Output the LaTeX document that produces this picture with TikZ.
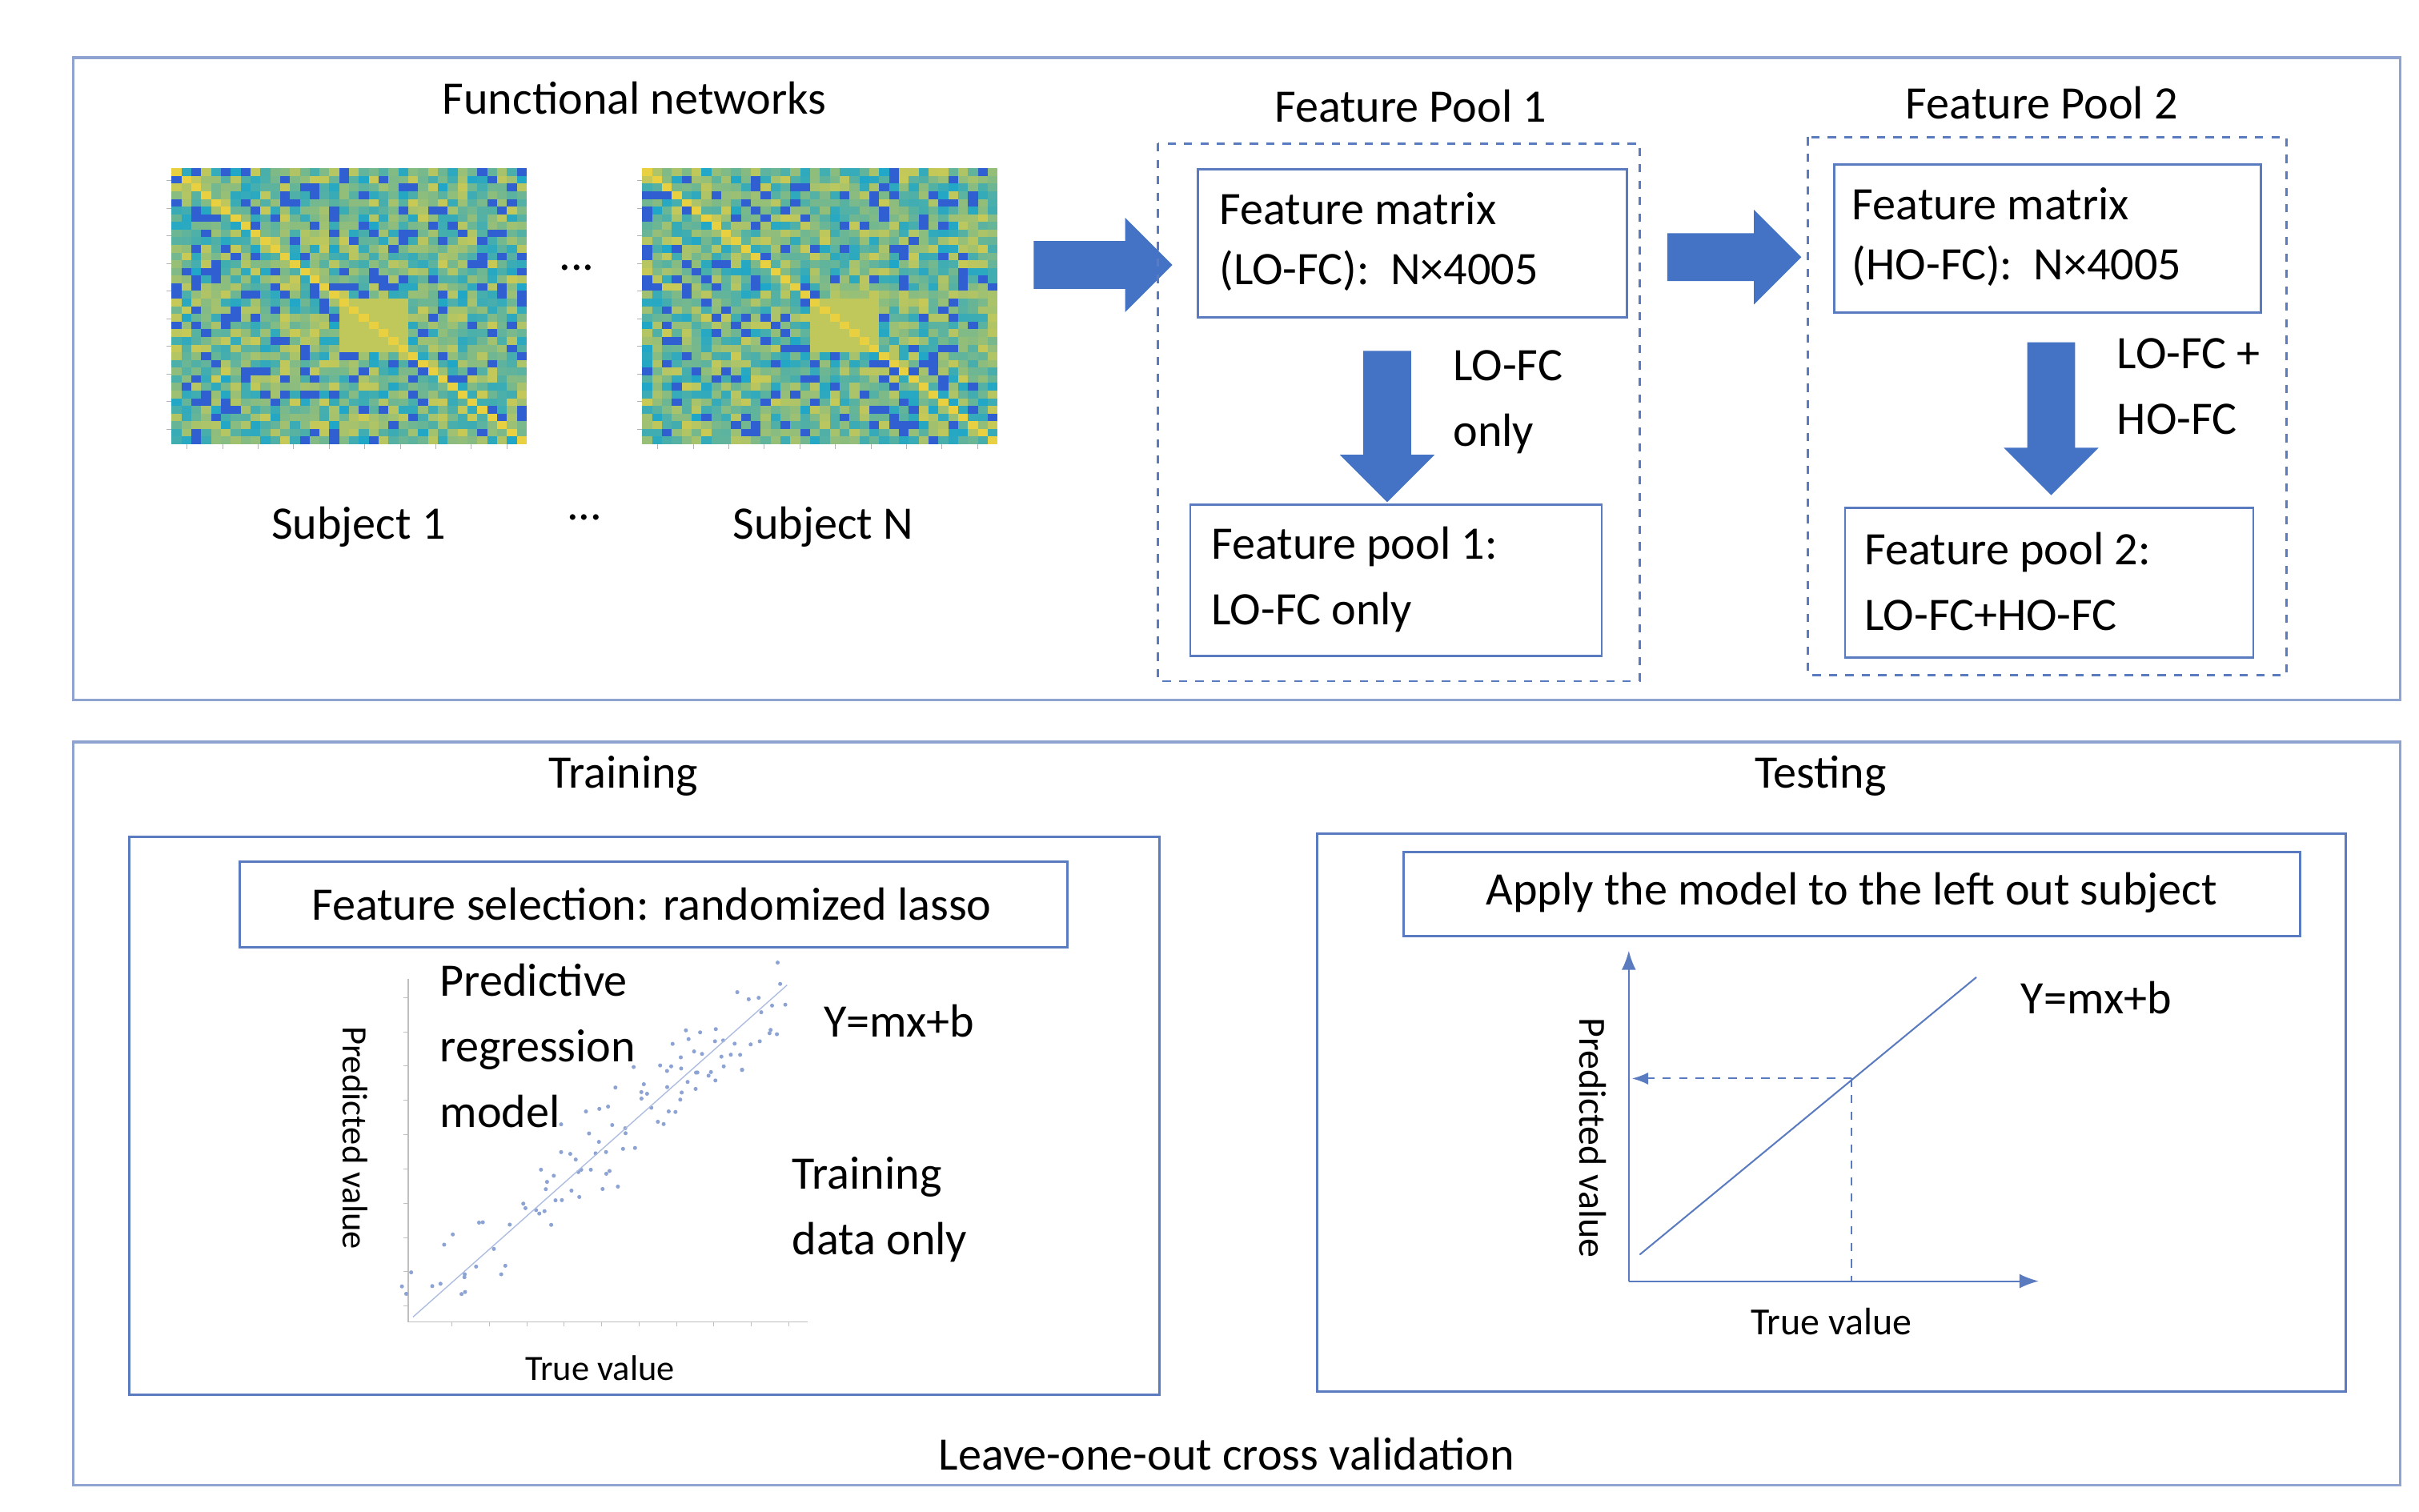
\documentclass[tikz,border=0pt]{standalone}
\usepackage{fontspec}
\setmainfont{Carlito}
\usetikzlibrary{shapes.arrows,arrows.meta}
\definecolor{bord}{HTML}{8FA3D1}
\definecolor{ibord}{HTML}{5B7BC0}
\definecolor{arr}{HTML}{4472C4}
\definecolor{mc}{HTML}{1FA6C8}
\definecolor{my}{HTML}{E8D040}
\definecolor{mb}{HTML}{2F5FD0}
\begin{document}
\begin{tikzpicture}[x=0.02cm,y=-0.02cm,
  txt/.style={font=\fontsize{17}{22}\selectfont,inner sep=0pt},
  box/.style={draw=ibord,line width=0.8pt},
  outer/.style={draw=bord,line width=1pt},
  dbox/.style={draw=ibord,dashed,line width=0.8pt},
  barrow/.style={single arrow,fill=arr,draw=none,minimum height=#1,single arrow head extend=0.3cm,inner xsep=0pt,inner ysep=0.3cm,single arrow head indent=0pt},
  varrow/.style={single arrow,fill=arr,draw=none,minimum width=0pt,minimum height=#1,shape border rotate=270,single arrow head extend=0.3cm,inner ysep=0pt,inner xsep=0.3cm,single arrow head indent=0pt},
  ax/.style={draw=ibord,line width=0.6pt}]
\useasboundingbox (0,0) rectangle (1552,970);
\fill[white] (0,0) rectangle (1552,970);
% top panel
\draw[outer] (47,37) rectangle (1540,449);
\node[txt] (fn) at (407,63) {Functional networks};
\pgfmathsetseed{7}
\foreach \ox/\nm in {110/m1,412/m2}{
  \foreach \i in {0,...,35}{\foreach \j in {0,...,35}{
    \pgfmathsetmacro\v{100*rnd}
    \pgfmathtruncatemacro\d{abs(\i-\j)<1 ? 1 : ((\i>16 && \i<24 && \j>16 && \j<24) ? 2 : 0)}
    \ifnum\d=1 \def\cc{my}\else\ifnum\d=2 \def\cc{my!80!mc}\else\ifdim\v pt<15pt \def\cc{mb}\else\def\cc{mc!\v!my}\fi\fi\fi
    \fill[\cc] (\ox+\i*6.333,108+\j*4.917) rectangle ++(6.4,5);
  }}
  \node[inner sep=0pt,minimum width=228*0.02cm,minimum height=177*0.02cm,anchor=north west] (\nm) at (\ox,108) {};
  \foreach \k in {0,...,9}{\draw[gray!60,line width=0.3pt] (\ox+\k*22.8+10,285) -- ++(0,3); \draw[gray!60,line width=0.3pt] (\ox-3,108+\k*17.7+8) -- ++(3,0);}
}
\node[txt] (d1) at (370,172) {...};
\node[txt] (s1) at (230,338) {Subject 1};
\node[txt] (d2) at (375,332) {...};
\node[txt] (sn) at (528,338) {Subject N};
\node[barrow=89*0.02cm] (a1) at (700,170) {};
% pool 1
\node[txt] (fp1) at (905,68) {Feature Pool 1};
\draw[dbox] (743,92) rectangle (1052,437);
\node[box,minimum width=275*0.02cm,minimum height=95*0.02cm,anchor=north west] (fm1) at (768,108) {};
\node[txt,align=left,anchor=west] at (782,155) {Feature matrix\\(LO-FC):\ \ N×4005};
\node[varrow=97*0.02cm] (a2) at (890,266) {};
\node[txt,align=left,anchor=west,font=\fontsize{17}{24}\selectfont] (l1) at (932,258) {LO-FC\\only};
\node[box,minimum width=264*0.02cm,minimum height=97*0.02cm,anchor=north west] (p1) at (763,323) {};
\node[txt,align=left,anchor=west,font=\fontsize{17}{24}\selectfont] at (777,372) {Feature pool 1:\\LO-FC only};
\node[barrow=86*0.02cm] (a3) at (1105,165) {};
% pool 2
\node[txt] (fp2) at (1310,66) {Feature Pool 2};
\draw[dbox] (1160,88) rectangle (1467,433);
\node[box,minimum width=274*0.02cm,minimum height=95*0.02cm,anchor=north west] (fm2) at (1176,105) {};
\node[txt,align=left,anchor=west] at (1188,152) {Feature matrix\\(HO-FC):\ \ N×4005};
\node[varrow=98*0.02cm] (a4) at (1316,261) {};
\node[txt,align=left,anchor=west,font=\fontsize{17}{24}\selectfont] (l2) at (1358,248) {LO-FC +\\HO-FC};
\node[box,minimum width=262*0.02cm,minimum height=96*0.02cm,anchor=north west] (p2) at (1183,325) {};
\node[txt,align=left,anchor=west,font=\fontsize{17}{24}\selectfont] at (1196,373) {Feature pool 2:\\LO-FC+HO-FC};
% bottom panel
\draw[outer] (47,476) rectangle (1540,953);
\node[txt] (tr) at (400,498) {Training};
\node[txt] (te) at (1168,498) {Testing};
\node[txt] (loo) at (787,933) {Leave-one-out cross validation};
% training
\draw[box] (83,537) rectangle (744,895);
\node[box,txt,minimum width=531*0.02cm,minimum height=55*0.02cm,anchor=north west] (fs) at (153,552) {};
\node[txt] at (418,580) {Feature selection: randomized lasso};
\draw[gray!50,line width=0.4pt] (262,628) -- (262,848) -- (518,848);
\foreach \k in {0,...,9}{\draw[gray!50,line width=0.3pt] (262,640+\k*22) -- ++(-3,0); \draw[gray!50,line width=0.3pt] (290+\k*24,848) -- ++(0,3);}
\pgfmathsetseed{3}
\foreach \n in {1,...,110}{
  \pgfmathsetmacro\t{rnd}
  \pgfmathsetmacro\px{270+235*\t+18*rand}
  \pgfmathsetmacro\py{835-200*\t+22*rand}
  \fill[ibord!70] (\px,\py) circle (1.3);
}
\draw[ibord!50,line width=0.4pt] (265,845) -- (505,632);
\node[txt,rotate=-90] (pv1) at (228,730) {\fontsize{13}{16}\selectfont Predicted value};
\node[txt] (tv1) at (385,878) {\fontsize{13}{16}\selectfont True value};
\node[txt,align=left,anchor=west,font=\fontsize{17}{24}\selectfont] (prm) at (282,671) {Predictive\\regression\\model};
\node[txt] (y1) at (577,655) {Y=mx+b};
\node[txt,align=left,anchor=west,font=\fontsize{17}{24}\selectfont] (tdo) at (508,776) {Training\\data only};
% testing
\draw[box] (845,535) rectangle (1505,893);
\node[box,minimum width=575*0.02cm,minimum height=54*0.02cm,anchor=north west] (ap) at (900,546) {};
\node[txt] at (1188,573) {Apply the model to the left out subject};
\coordinate (o) at (1045,822);
\coordinate (yt) at (1045,610);
\coordinate (xt) at (1308,822);
\draw[ax,-{Latex[length=7pt]}] (o) -- (yt);
\draw[ax,-{Latex[length=7pt]}] (o) -- (xt);
\coordinate (ls) at (1052,805);
\coordinate (le) at (1268,627);
\coordinate (pt) at (1188,692);
\coordinate (pa) at (1047,692);
\coordinate (pb) at (1188,822);
\draw[ax] (ls) -- (le);
\draw[ax,dashed,-{Latex[length=6pt]}] (pt) -- (pa);
\draw[ax,dashed] (pt) -- (pb);
\node[txt] (y2) at (1345,640) {Y=mx+b};
\node[txt,rotate=-90] (pv2) at (1022,730) {\fontsize{14}{17}\selectfont Predicted value};
\node[txt] (tv2) at (1175,848) {\fontsize{14}{17}\selectfont True value};
\end{tikzpicture}
\end{document}
